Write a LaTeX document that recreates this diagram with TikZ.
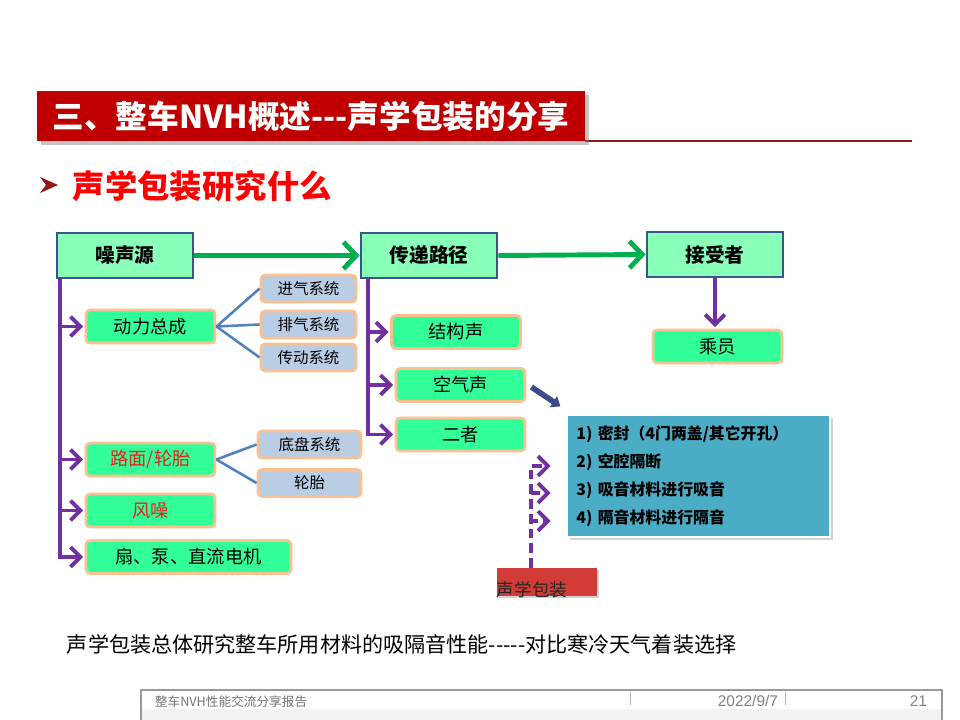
\documentclass[tikz,border=0pt]{standalone}
\usepackage{fontspec}
\setmainfont{Noto Sans CJK SC}
\newfontfamily\numfont{Liberation Sans}
\usetikzlibrary{arrows.meta,shadows}

\definecolor{mintfill}{RGB}{138,255,186}
\definecolor{mainedge}{RGB}{56,87,135}
\definecolor{subfill}{RGB}{51,255,153}
\definecolor{peach}{RGB}{250,192,143}
\definecolor{paleblue}{RGB}{185,205,229}
\definecolor{linkblue}{RGB}{79,129,189}
\definecolor{purp}{RGB}{112,48,160}
\definecolor{arrowgreen}{RGB}{0,176,80}
\definecolor{navy}{RGB}{60,75,140}
\definecolor{tealbox}{RGB}{75,172,198}
\definecolor{titlered}{RGB}{192,0,0}
\definecolor{ruledred}{RGB}{150,20,20}
\definecolor{packred}{RGB}{210,60,55}
\definecolor{textred}{RGB}{230,30,30}

\tikzset{
	mainbox/.style={draw=mainedge, fill=mintfill, line width=2pt, minimum width=3.4cm, minimum height=1.125cm, font=\fontsize{14pt}{16pt}\selectfont\bfseries},
	subbox/.style={draw=peach, fill=subfill, line width=2pt, rounded corners=3pt, minimum width=3.225cm, minimum height=0.825cm, font=\fontsize{13pt}{15pt}\selectfont},
	smallbox/.style={draw=peach, fill=paleblue, line width=2pt, rounded corners=3pt, minimum width=2.375cm, minimum height=0.675cm, font=\fontsize{11pt}{13pt}\selectfont},
	purparrow/.style={draw=purp, line width=2.8pt, -{Straight Barb[length=7pt,width=14pt]}, shorten >=1pt},
	greenarrow/.style={draw=arrowgreen, line width=3.5pt, -{Straight Barb[length=9pt,width=19pt]}},
	bluelink/.style={draw=linkblue, line width=1.8pt}
}

\begin{document}
\begin{tikzpicture}[x=0.025cm, y=-0.025cm]
	\useasboundingbox (0, 0) rectangle (960, 720);
	\fill[white] (0, 0) rectangle (960, 720);

	% heading
	\coordinate (rulstart) at (585, 141);
	\coordinate (rulend) at (912, 141);
	\draw[ruledred, line width=1pt] (rulstart) -- (rulend);
	\node[fill=titlered, minimum width=13.7cm, minimum height=1.25cm, text=white, font=\fontsize{22.5pt}{24pt}\selectfont\bfseries, drop shadow={shadow xshift=3pt, shadow yshift=-3pt, opacity=0.45}] (title) at (311, 116) {三、整车NVH概述-{}-{}-声学包装的分享};
	\fill[ruledred] (40, 177) -- (58, 185) -- (40, 193) -- (46, 185) -- cycle;
	\node[anchor=west, text=red, font=\fontsize{23pt}{25pt}\selectfont\bfseries] (question) at (68, 186) {声学包装研究什么};

	% main chain
	\node[mainbox] (noise) at (125, 255.5) {噪声源};
	\node[mainbox] (path) at (429, 255.5) {传递路径};
	\node[mainbox] (recv) at (715, 254.5) {接受者};
	\draw[greenarrow] (noise.east) -- (path.west);
	\draw[greenarrow] (path.east) -- (recv.west);

	% sources
	\node[subbox] (power) at (150.5, 326.5) {动力总成};
	\node[subbox, text=textred] (road) at (150.5, 459.5) {路面/轮胎};
	\node[subbox, text=textred] (wind) at (150.5, 510.5) {风噪};
	\node[subbox, minimum width=5.125cm] (fan) at (188.5, 557) {扇、泵、直流电机};
	\node[smallbox] (intake) at (308.5, 288.5) {进气系统};
	\node[smallbox] (exhaust) at (308.5, 324.5) {排气系统};
	\node[smallbox] (trans) at (308.5, 357.5) {传动系统};
	\node[smallbox, minimum width=2.575cm] (chassis) at (309.5, 444.5) {底盘系统};
	\node[smallbox, minimum width=2.575cm] (tire) at (309.5, 483) {轮胎};
	\draw[bluelink] (power.east) -- (intake.west);
	\draw[bluelink] (power.east) -- (exhaust.west);
	\draw[bluelink] (power.east) -- (trans.west);
	\draw[bluelink] (road.east) -- (chassis.west);
	\draw[bluelink] (road.east) -- (tire.west);
	\coordinate (ntrunk) at (60, 278);
	\draw[purparrow] (ntrunk) |- (power.west);
	\draw[purparrow] (ntrunk) |- (road.west);
	\draw[purparrow] (ntrunk) |- (wind.west);
	\draw[purparrow] (ntrunk) |- (fan.west);

	% paths
	\node[subbox] (struct) at (456, 332) {结构声};
	\node[subbox] (air) at (460.5, 385) {空气声};
	\node[subbox] (both) at (460.5, 434.5) {二者};
	\coordinate (ptrunk) at (368, 278);
	\draw[purparrow] (ptrunk) |- (struct.west);
	\draw[purparrow] (ptrunk) |- (air.west);
	\draw[purparrow] (ptrunk) |- (both.west);

	% receiver
	\node[subbox] (crew) at (717.5, 346.5) {乘员};
	\draw[purparrow] (recv.south) -- (recv.south |- crew.north);

	% measures
	\node[fill=tealbox, draw=white, line width=0.8pt, minimum width=6.575cm, minimum height=3.05cm, text width=6.1cm, align=left, font=\fontsize{11.3pt}{20pt}\selectfont\bfseries, drop shadow={shadow xshift=2pt, shadow yshift=-2pt, opacity=0.35}] (box) at (698.5, 476) {1)~密封（4门两盖/其它开孔）\\2)~空腔隔断\\3)~吸音材料进行吸音\\4)~隔音材料进行隔音};
	\draw[navy, line width=4pt, -{Triangle[length=6pt,width=9pt]}] ([shift={(5, 2)}]air.east) -- ([shift={(-6, -8)}]box.north west);

	\node[fill=packred, minimum width=2.5cm, minimum height=0.7cm, inner xsep=0pt, text width=2.5cm, align=left, text=black!85, font=\fontsize{12.5pt}{14pt}\selectfont, drop shadow={shadow xshift=1.5pt, shadow yshift=-1.5pt, opacity=0.35}] (pack) at (547, 582) {\raisebox{-10pt}[0pt][0pt]{声学包装}};
	\coordinate (pk) at (531, 568);
	\coordinate (d1) at (552, 466);
	\coordinate (d2) at (552, 493);
	\coordinate (d3) at (552, 521);
	\draw[purparrow, dash pattern=on 7pt off 3.5pt] (pk) |- (d1);
	\draw[purparrow, dash pattern=on 7pt off 3.5pt] (pk) |- (d2);
	\draw[purparrow, dash pattern=on 7pt off 3.5pt] (pk) |- (d3);

	\node[anchor=west, font=\fontsize{15pt}{17pt}\selectfont] (summary) at (62, 644) {声学包装总体研究整车所用材料的吸隔音性能-{}-{}-{}-{}-对比寒冷天气着装选择};

	% footer
	\fill[gray!10] (141, 709) rectangle (942, 720);
	\draw[gray!80, line width=0.8pt] (141, 721) -- (141, 690) -- (942, 690) -- (942, 721);
	\draw[gray!60] (630, 692) -- (630, 705);
	\draw[gray!60] (785, 692) -- (785, 705);
	\node[anchor=west, text=gray!90!black, font=\fontsize{9pt}{11pt}\selectfont] (report) at (150, 702) {整车NVH性能交流分享报告};
	\node[anchor=east, text=gray, font=\numfont\fontsize{11pt}{13pt}\selectfont] (date) at (783, 701) {2022/9/7};
	\node[anchor=east, text=gray, font=\numfont\fontsize{11pt}{13pt}\selectfont] (page) at (932, 701) {21};
\end{tikzpicture}
\end{document}
